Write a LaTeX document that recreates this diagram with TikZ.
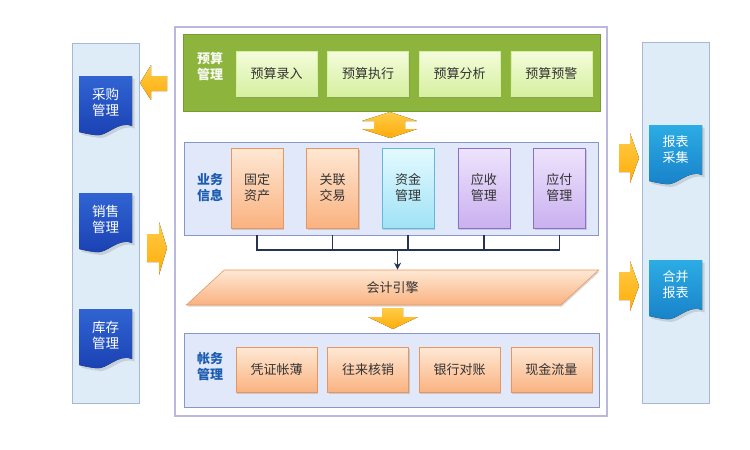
\documentclass[tikz,border=0pt]{standalone}
\usepackage{fontspec}
\setmainfont{Noto Sans CJK SC}
\definecolor{SideBlue}{RGB}{222, 236, 248}
\definecolor{SideLine}{RGB}{168, 184, 212}
\definecolor{PanelBlue}{RGB}{224, 232, 250}
\definecolor{PanelLine}{RGB}{138, 150, 200}
\definecolor{FrameLine}{RGB}{186, 184, 220}
\definecolor{LeafGreen}{RGB}{141, 180, 60}
\definecolor{LeafLine}{RGB}{118, 156, 48}
\definecolor{MintTop}{RGB}{244, 252, 220}
\definecolor{MintBot}{RGB}{214, 240, 160}
\definecolor{PeachTop}{RGB}{254, 232, 212}
\definecolor{PeachBot}{RGB}{250, 178, 128}
\definecolor{PeachLine}{RGB}{232, 150, 96}
\definecolor{AquaTop}{RGB}{228, 250, 255}
\definecolor{AquaBot}{RGB}{160, 226, 246}
\definecolor{AquaLine}{RGB}{96, 184, 222}
\definecolor{LilacTop}{RGB}{238, 228, 252}
\definecolor{LilacBot}{RGB}{202, 176, 240}
\definecolor{LilacLine}{RGB}{140, 112, 200}
\definecolor{ArrowTop}{RGB}{255, 204, 70}
\definecolor{ArrowBot}{RGB}{255, 172, 10}
\definecolor{NavyTop}{RGB}{48, 100, 210}
\definecolor{NavyBot}{RGB}{26, 64, 178}
\definecolor{CyanTop}{RGB}{44, 172, 228}
\definecolor{CyanBot}{RGB}{24, 128, 200}
\definecolor{LabelBlue}{RGB}{28, 92, 176}
\definecolor{BusLine}{RGB}{40, 50, 84}
\usepackage{tikz}
\usetikzlibrary{arrows.meta, positioning, shapes, shadows, calc}

\begin{document}
\begin{tikzpicture}[x=1pt, y=-1pt,
    sidebar/.style={draw=SideLine, fill=SideBlue, line width=0.8pt, inner sep=0pt},
    panel/.style={draw=PanelLine, fill=PanelBlue, line width=0.8pt, inner sep=0pt},
    tile/.style={draw, line width=0.6pt, inner sep=0pt, align=center,
        font=\fontsize{13}{16}\selectfont, text=black!80,
        drop shadow={opacity=0.3, shadow xshift=1.2pt, shadow yshift=-1.5pt}},
    wide/.style={tile, minimum width=81pt, minimum height=45pt},
    tall/.style={tile, minimum width=52pt, minimum height=80pt},
    mint/.style={wide, draw=MintBot, top color=MintTop, bottom color=MintBot},
    peach/.style={draw=PeachLine, top color=PeachTop, bottom color=PeachBot},
    aqua/.style={draw=AquaLine, top color=AquaTop, bottom color=AquaBot},
    lilac/.style={draw=LilacLine, top color=LilacTop, bottom color=LilacBot},
    tag/.style={align=center, font=\bfseries\fontsize{13}{16}\selectfont, text=LabelBlue},
    doctext/.style={align=center, text=white, font=\fontsize{13.5}{16}\selectfont},
    blockarrow/.style={top color=ArrowTop, bottom color=ArrowBot, draw=none},
    bus/.style={BusLine, line width=1.6pt}
]
\useasboundingbox (0,0) rectangle (750,450);

% side columns
\node[sidebar, minimum width=67pt, minimum height=360pt] (leftbar) at (105.5,223) {};
\node[sidebar, minimum width=67pt, minimum height=361pt] (rightbar) at (675.5,222.5) {};

% left documents
\foreach \y/\txt [count=\i] in {76/{采购\\管理}, 193/{销售\\管理}, 309/{库存\\管理}} {
    \fill[top color=NavyTop, bottom color=NavyBot, drop shadow={opacity=0.25}]
        (79,\y) -- (132,\y) -- (132,\y+50) .. controls (118,\y+44) and (106,\y+62) .. (95,\y+59)
        .. controls (88,\y+58) .. (79,\y+56) -- cycle;
    \node[doctext] (ldoc\i) at (105.5,\y+26) {\txt};
}

% right documents
\foreach \y/\txt [count=\i] in {125/{报表\\采集}, 260/{合并\\报表}} {
    \fill[top color=CyanTop, bottom color=CyanBot, drop shadow={opacity=0.25}]
        (649,\y) -- (702,\y) -- (702,\y+50) .. controls (688,\y+44) and (676,\y+62) .. (665,\y+59)
        .. controls (658,\y+58) .. (649,\y+56) -- cycle;
    \node[doctext, font=\fontsize{13}{16}\selectfont] (rdoc\i) at (675.5,\y+25) {\txt};
}

% main frame
\node[draw=FrameLine, fill=white, line width=1.2pt, minimum width=432pt, minimum height=389pt] (frame) at (391,221.5) {};

% budget
\node[draw=LeafLine, fill=LeafGreen, line width=0.8pt, minimum width=417pt, minimum height=77pt] (budget) at (391.5,72.5) {};
\node[tag, text=white!92!LeafGreen] (budgettag) at (210,67) {预算\\管理};
\node[mint] (g1) at (276.5,73.5) {预算录入};
\node[mint, right=10pt of g1] (g2) {预算执行};
\node[mint, right=10pt of g2] (g3) {预算分析};
\node[mint, right=10pt of g3] (g4) {预算预警};

% business
\node[panel, minimum width=414pt, minimum height=93pt] (biz) at (391,188.5) {};
\node[tag] (biztag) at (210,188) {业务\\信息};
\node[tall, peach] (b1) at (257,188) {固定\\资产};
\node[tall, peach, right=23pt of b1] (b2) {关联\\交易};
\node[tall, aqua, right=23pt of b2] (b3) {资金\\管理};
\node[tall, lilac, right=23pt of b3] (b4) {应收\\管理};
\node[tall, lilac, right=23pt of b4] (b5) {应付\\管理};

% engine
\node[trapezium, trapezium left angle=64, trapezium right angle=116, trapezium stretches=true,
    minimum width=415pt, minimum height=35pt, inner sep=0pt, draw=PeachLine, line width=0.6pt,
    top color=PeachTop, bottom color=PeachBot, font=\fontsize{13}{16}\selectfont, text=black!80,
    drop shadow={opacity=0.3, shadow xshift=1.2pt, shadow yshift=-1.5pt}] (engine) at (392.5,287.5) {会计引擎};

\coordinate (bus) at (0,250);
\foreach \i in {1,...,5}
    \draw[bus] (b\i |- biz.south) -- (b\i |- bus);
\draw[bus, line cap=rect] (b1 |- bus) -- (b5 |- bus);
\draw[bus, -{Stealth[length=7pt, width=7pt]}] ([xshift=5pt]engine.north |- bus) -- ([xshift=5pt]engine.north);

% ledger
\node[panel, minimum width=415pt, minimum height=74pt] (ledger) at (391.5,370) {};
\node[tag] (ledgertag) at (210,367) {帐务\\管理};
\node[wide, peach] (a1) at (276.5,370) {凭证帐薄};
\node[wide, peach, right=10pt of a1] (a2) {往来核销};
\node[wide, peach, right=10pt of a2] (a3) {银行对账};
\node[wide, peach, right=10pt of a3] (a4) {现金流量};

% block arrows
\fill[blockarrow] (390,112) -- (417,121) -- (405,121) -- (405,129) -- (417,129) -- (390,138)
    -- (362,129) -- (374,129) -- (374,121) -- (362,121) -- cycle;
\fill[blockarrow] (382,308) -- (403,308) -- (403,317) -- (418,317) -- (393,329) -- (368,317) -- (382,317) -- cycle;
\fill[blockarrow] (140,83) -- (151,65) -- (151,76) -- (167,76) -- (167,91) -- (151,91) -- (151,100) -- cycle;
\fill[blockarrow] (147,234) -- (159,234) -- (159,222) -- (167,248) -- (159,275) -- (159,262) -- (147,262) -- cycle;
\foreach \c in {158, 286}
    \fill[blockarrow] (619,\c-14) -- (630,\c-14) -- (630,\c-25) -- (639,\c) -- (630,\c+25) -- (630,\c+14) -- (619,\c+14) -- cycle;
\end{tikzpicture}
\end{document}
